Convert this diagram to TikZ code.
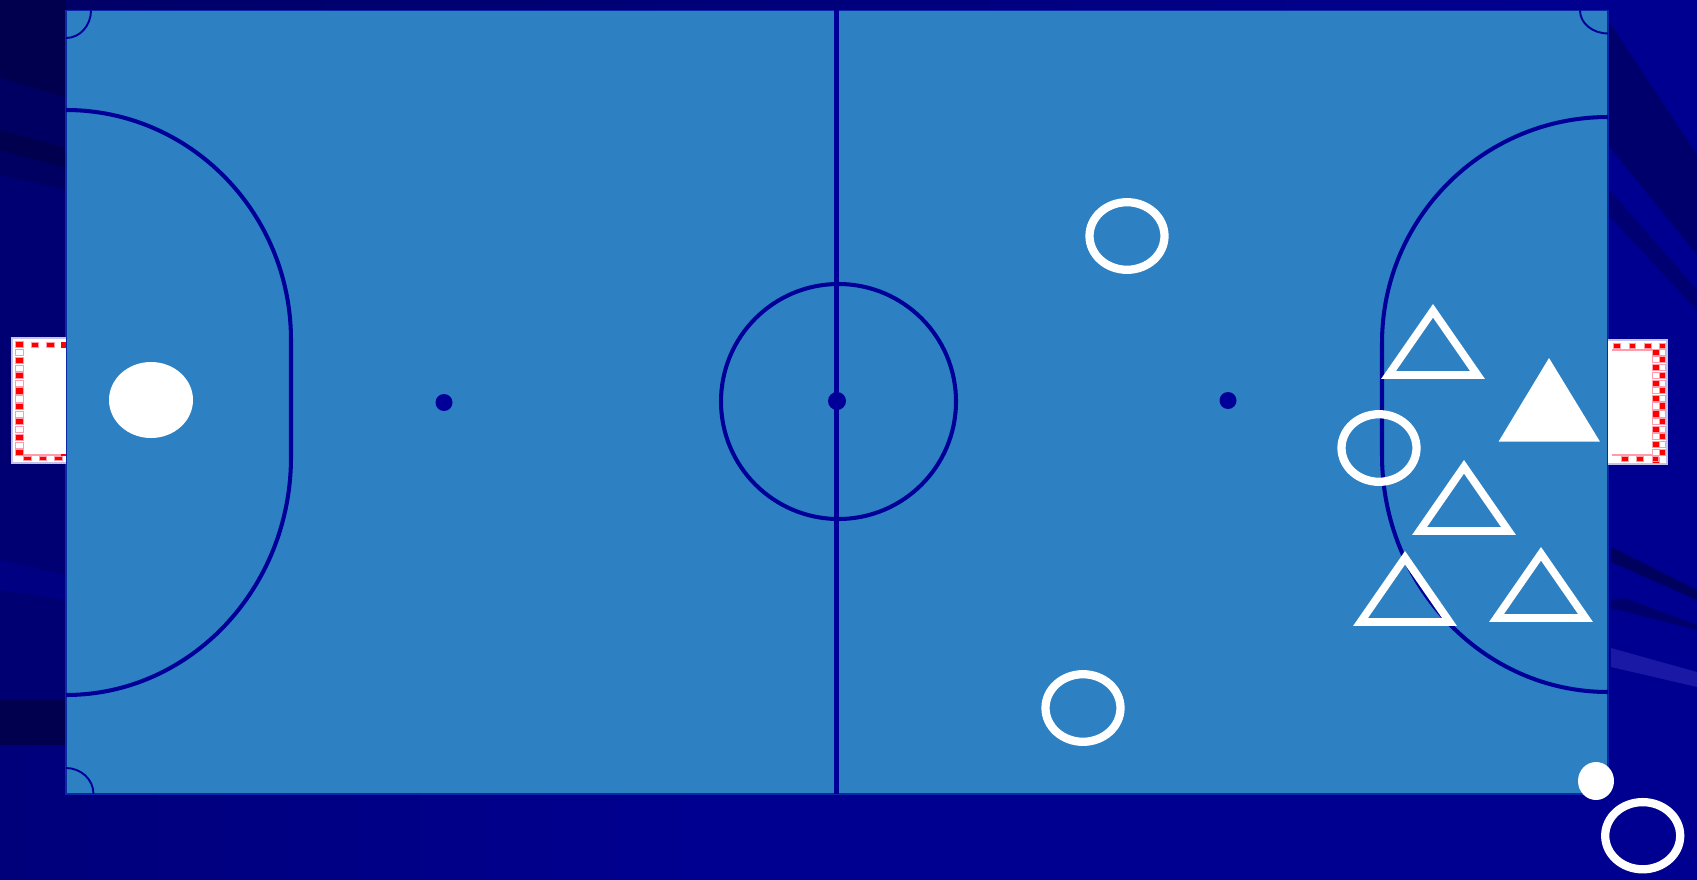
\documentclass[tikz,border=0pt]{standalone}
\usepackage{tikz}
\usetikzlibrary{calc}
\definecolor{pitchblue}{HTML}{2D81C3}
\definecolor{linenavy}{HTML}{000099}
\definecolor{backnavy}{HTML}{000090}
\definecolor{edgeblue}{HTML}{0A28A8}
\definecolor{goalrim}{HTML}{C4C4E8}
\definecolor{checkpink}{HTML}{FF9CAC}
\tikzset{
  courtline/.style={draw=linenavy,line width=2.3pt},
  thinline/.style={draw=linenavy,line width=1.1pt},
  ring/.style={draw=white,line width=4.7pt},
  tri/.style={draw=white,line width=4.4pt,miter limit=10},
  redcheck/.style={fill=red,draw=checkpink,line width=0.5pt},
  whitecheck/.style={fill=white,draw=checkpink,line width=0.5pt},
  goalbox/.style={fill=white,draw=goalrim,line width=0.8pt},
}
\begin{document}
\begin{tikzpicture}[x=0.02cm,y=-0.02cm]
  \useasboundingbox (0,0) rectangle (1697,879);
  \coordinate (C) at (838.5,401.5);
  \coordinate (LS) at (444,402.5);
  \coordinate (RS) at (1228,400.5);
  % background with its streaks
  \fill[backnavy] (-10,-10) rectangle (1707,889);
  \fill[left color=backnavy!85!black,right color=backnavy] (-10,740) rectangle (700,889);
  \fill[left color=backnavy!70!black,right color=backnavy] (0,0) rectangle (1600,10);
  \fill[backnavy!80!black] (0,165) -- (66,180) -- (66,740) -- (0,740) -- cycle;
  \fill[backnavy!90!black] (0,560) -- (66,575) -- (66,600) -- (0,590) -- cycle;
  \fill[backnavy!55!black] (0,0) -- (66,0) -- (66,98) -- (0,78) -- cycle;
  \fill[backnavy!68!black] (0,78) -- (66,98) -- (66,190) -- (0,175) -- cycle;
  \fill[backnavy!55!black] (0,130) -- (66,148) -- (66,168) -- (0,150) -- cycle;
  \fill[backnavy!55!black] (0,700) -- (66,700) -- (66,745) -- (0,745) -- cycle;
  \fill[backnavy!75!black] (1608,20) -- (1697,155) -- (1697,255) -- (1608,145) -- cycle;
  \fill[backnavy!80!black] (1608,188) -- (1697,290) -- (1697,310) -- (1608,215) -- cycle;
  \fill[backnavy!65!black] (1611,547) -- (1697,590) -- (1697,600) -- (1611,562) -- cycle;
  \fill[backnavy!75!black] (1611,600) -- (1625,598) -- (1697,625) -- (1697,630) -- (1611,608) -- cycle;
  \fill[blue!10!backnavy!90!white] (1611,648) -- (1697,672) -- (1697,687) -- (1611,667) -- cycle;
  % pitch
  \fill[pitchblue,draw=edgeblue,line width=1.1pt] (66,10.5) rectangle (1608,794);
  \draw[courtline] (836.5,10) -- (836.5,794);
  \draw[courtline] (C) circle (117.5);
  \fill[linenavy] (837,401) circle (9);
  \fill[linenavy] (LS) circle (8.5);
  \fill[linenavy] (RS) circle (8.5);
  % penalty areas
  \draw[courtline] (66,110) arc (-90:0:225 and 230) -- (291,457) arc (0:90:225 and 238);
  \draw[courtline] (1608,117) arc (-90:-180:226 and 226) -- (1382,455) arc (-180:-270:226 and 237);
  % corners
  \draw[thinline] (91,10.5) arc (0:90:25 and 27.5);
  \draw[thinline] (1580,10.5) arc (180:90:28 and 23);
  \draw[thinline] (93.5,794) arc (0:-90:27.5 and 26);
  % goals
  \draw[goalbox] (66,338) -- (12,338) -- (12,463) -- (66,463);
  \foreach \y in {0,...,7}
    \draw[redcheck] (15.5,{341.7+15.4*\y}) rectangle ++(7.5,6.2);
  \foreach \y in {0,...,6}
    \draw[whitecheck] (15.5,{349.6+15.4*\y}) rectangle ++(7.5,6.2);
  \foreach \x in {31,46.5}
    \draw[redcheck] (\x,342) rectangle ++(7.5,5.5);
  \fill[red] (61,342) rectangle (66,347.5);
  \foreach \x in {23.5,39,54.5}
    \draw[redcheck] (\x,456.3) rectangle ++(7.5,4.5);
  \draw[checkpink,line width=0.6pt] (23,455) -- (66,455);
  \fill[red] (61,453.5) rectangle (66,456);
  \draw[goalbox] (1608,340) -- (1667,340) -- (1667,464) -- (1608,464);
  \foreach \x in {1613.5,1629,1644.5,1659}
    \draw[redcheck] (\x,343) rectangle ++(6.5,5.3);
  \draw[checkpink,line width=0.6pt] (1611.5,350) -- (1652.5,350);
  \draw[checkpink,line width=0.6pt] (1611.5,455) -- (1652.5,455);
  \foreach \y in {0,...,7}{
    \draw[redcheck] (1652.5,{349.3+15.4*\y}) rectangle ++(6.5,6.2);
  }
  \foreach \y in {0,...,6}{
    \draw[redcheck] (1659,{356.7+15.4*\y}) rectangle ++(6,6.2);
    \draw[whitecheck] (1652.5,{356.7+15.4*\y}) rectangle ++(6.5,6.2);
    \draw[whitecheck] (1659,{349.3+15.4*\y}) rectangle ++(6,6.2);
  }
  \foreach \x in {1621.7,1636.7,1652}
    \draw[redcheck] (\x,456.3) rectangle ++(6.5,5);
  % players, circles
  \fill[white] (151,400) ellipse (42 and 38);
  \draw[ring] (1127,236) ellipse (37.5 and 33.8);
  \draw[ring] (1083,708) ellipse (37.5 and 33.8);
  \draw[ring] (1379,448) ellipse (37.5 and 33.8);
  \draw[ring] (1642.7,835.7) ellipse (37.5 and 33.6);
  % players, triangles
  \fill[white] (1549,358) -- (1600,441.7) -- (1498.5,441.7) -- cycle;
  \foreach \x/\y in {1433/304,1464/460,1405/551,1541/547}
    \draw[tri] (\x,\y+6.8) -- (\x+44.5,\y+71) -- (\x-44.5,\y+71) -- cycle;
  % ball
  \fill[white] (1596,781) ellipse (18 and 19);
\end{tikzpicture}
\end{document}
